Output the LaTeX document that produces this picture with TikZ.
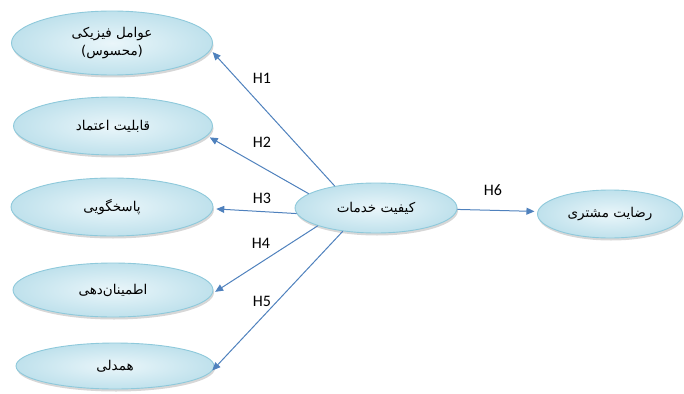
\documentclass[tikz,border=0pt]{standalone}
\usepackage{fontspec}
\setmainfont{Carlito}
\newfontfamily\fa[Script=Arabic]{DejaVu Sans}
\TeXXeTstate=1
\usetikzlibrary{shapes.geometric,arrows.meta,shadows}
\definecolor{arrowblue}{HTML}{4F81BD}
\definecolor{ellborder}{HTML}{8EC9DB}
\definecolor{ellin}{HTML}{EAF6FA}
\definecolor{ellout}{HTML}{BFE1EC}
\tikzset{
  ell/.style={ellipse, draw=ellborder, line width=0.9pt, inner sep=0pt,
    inner color=ellin, outer color=ellout,
    drop shadow={shadow xshift=1pt, shadow yshift=-2.5pt, fill=black!45, opacity=0.35},
    font=\fa\fontsize{13.5}{18}\selectfont, align=center},
  conn/.style={draw=arrowblue, line width=1pt, -{Triangle[length=8pt,width=7pt]}, shorten >=3pt},
  hlab/.style={font=\fontsize{16}{18}\selectfont, inner sep=0pt}
}
\begin{document}
\begin{tikzpicture}[x=1pt,y=-1pt]
\useasboundingbox (0,0) rectangle (684,393);
\node[ell, minimum width=201pt, minimum height=64pt] (e1) at (112,43) {\beginR عوامل فیزیکی\endR\\\beginR(محسوس)\endR};
\node[ell, minimum width=199pt, minimum height=58pt] (e2) at (113,126) {\beginR قابلیت اعتماد\endR};
\node[ell, minimum width=202pt, minimum height=58pt] (e3) at (112,207) {\beginR پاسخگویی\endR};
\node[ell, minimum width=200pt, minimum height=54pt] (e4) at (113,290) {\beginR اطمینان‌دهی\endR};
\node[ell, minimum width=198pt, minimum height=46pt] (e5) at (115,366) {\beginR همدلی\endR};
\node[ell, minimum width=162pt, minimum height=50pt] (c) at (376,208) {\beginR کیفیت خدمات\endR};
\node[ell, minimum width=145pt, minimum height=48pt] (r) at (610,214) {\beginR رضایت مشتری\endR};

\draw[conn] (c.152) -- (e1.-4);
\draw[conn] (c.168) -- (e2.-6);
\draw[conn] (c.184) -- (e3.-1);
\draw[conn] (c.197) -- (e4.-2);
\draw[conn] (c.215) -- (e5.-4);
\draw[conn] (c.-1) -- (r.178);

\node[hlab] (h1) at (262,78) {H1};
\node[hlab] (h2) at (262,142) {H2};
\node[hlab] (h3) at (262,198) {H3};
\node[hlab] (h4) at (261,243) {H4};
\node[hlab] (h5) at (262,301) {H5};
\node[hlab] (h6) at (493,190) {H6};
\end{tikzpicture}
\end{document}
